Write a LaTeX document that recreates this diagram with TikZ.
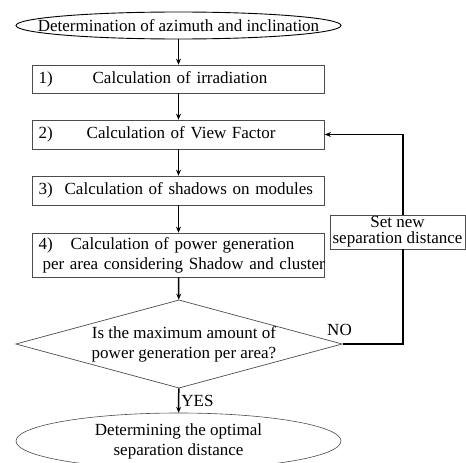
\documentclass[tikz,border=0pt]{standalone}
\usepackage{fontspec}
\setmainfont{Liberation Serif}
\usetikzlibrary{shapes.geometric,arrows.meta,positioning}

\begin{document}
\begin{tikzpicture}[x=1pt, y=1pt,
    box/.style={rectangle, draw=black!70, line width=0.7pt, fill=white, text width=280pt,
                inner xsep=6pt, inner ysep=0pt, minimum height=28pt, align=left,
                font=\fontsize{17}{20}\selectfont},
    term/.style={rectangle, minimum width=325pt, minimum height=27pt, inner sep=0pt,
                 align=center, font=\fontsize{17}{20}\selectfont},
    decide/.style={diamond, draw=black!70, line width=0.7pt, aspect=3.7, inner sep=0pt,
                   minimum width=322pt, minimum height=88pt, align=center,
                   font=\fontsize{17}{20}\selectfont},
    lbl/.style={inner sep=0pt, font=\fontsize{17}{20}\selectfont},
    arr/.style={-{Stealth[length=6pt,width=5pt]}, line width=1.5pt}
]
    \useasboundingbox (0,0) rectangle (466,-463);

    \node[term] (start) at (178.5,-25.5) {Determination of azimuth and inclination};
    \draw[line width=0.9pt] (start.center) ellipse [x radius=162.5, y radius=13.5];

    \node[box] (calc1) at (178.5,-79) {1)\hspace{40pt}Calculation of irradiation};
    \node[box, minimum height=29pt] (calc2) at (178.5,-134.5) {2)\hspace{34pt}Calculation of View Factor};
    \node[box, minimum height=29pt] (calc3) at (178.5,-190.5) {3)\hspace{12pt}Calculation of shadows on modules};
    \node[box, minimum height=44pt] (calc4) at (178.5,-255) {\mbox{4)\hspace{18pt}Calculation of power generation}\\
        \mbox{\hspace*{4pt}per area considering Shadow and cluster}};

    \node[decide] (check) at (179,-344) {\hspace*{10pt}Is the maximum amount of\\\hspace*{10pt}power generation per area?};

    \node[term, minimum height=56pt] (stop) at (178.5,-441) {Determining the optimal\\separation distance};
    \draw[line width=0.6pt, black!70] (stop.center) ellipse [x radius=162.5, y radius=28];

    \node[box, text width=, minimum width=135pt, minimum height=34pt, inner xsep=2pt, align=center,
          font=\fontsize{17}{16}\selectfont] (setnew) at (397.5,-232) {Set new\\separation distance};

    \draw[arr] (start) -- (calc1);
    \draw[arr] (calc1) -- (calc2);
    \draw[arr] (calc2) -- (calc3);
    \draw[arr] (calc3) -- (calc4);
    \draw[arr] (calc4) -- (check);
    \draw[arr] (check) -- node[lbl, right=2pt] (yes) {YES} (stop);

    % loop back
    \draw[line width=1.5pt] (check.east) -| ([xshift=5.5pt]setnew.south);
    \draw[arr] ([xshift=5.5pt]setnew.north) |- (calc2.east);
    \node[lbl] (no) at (339.5,-330) {NO};
\end{tikzpicture}
\end{document}
